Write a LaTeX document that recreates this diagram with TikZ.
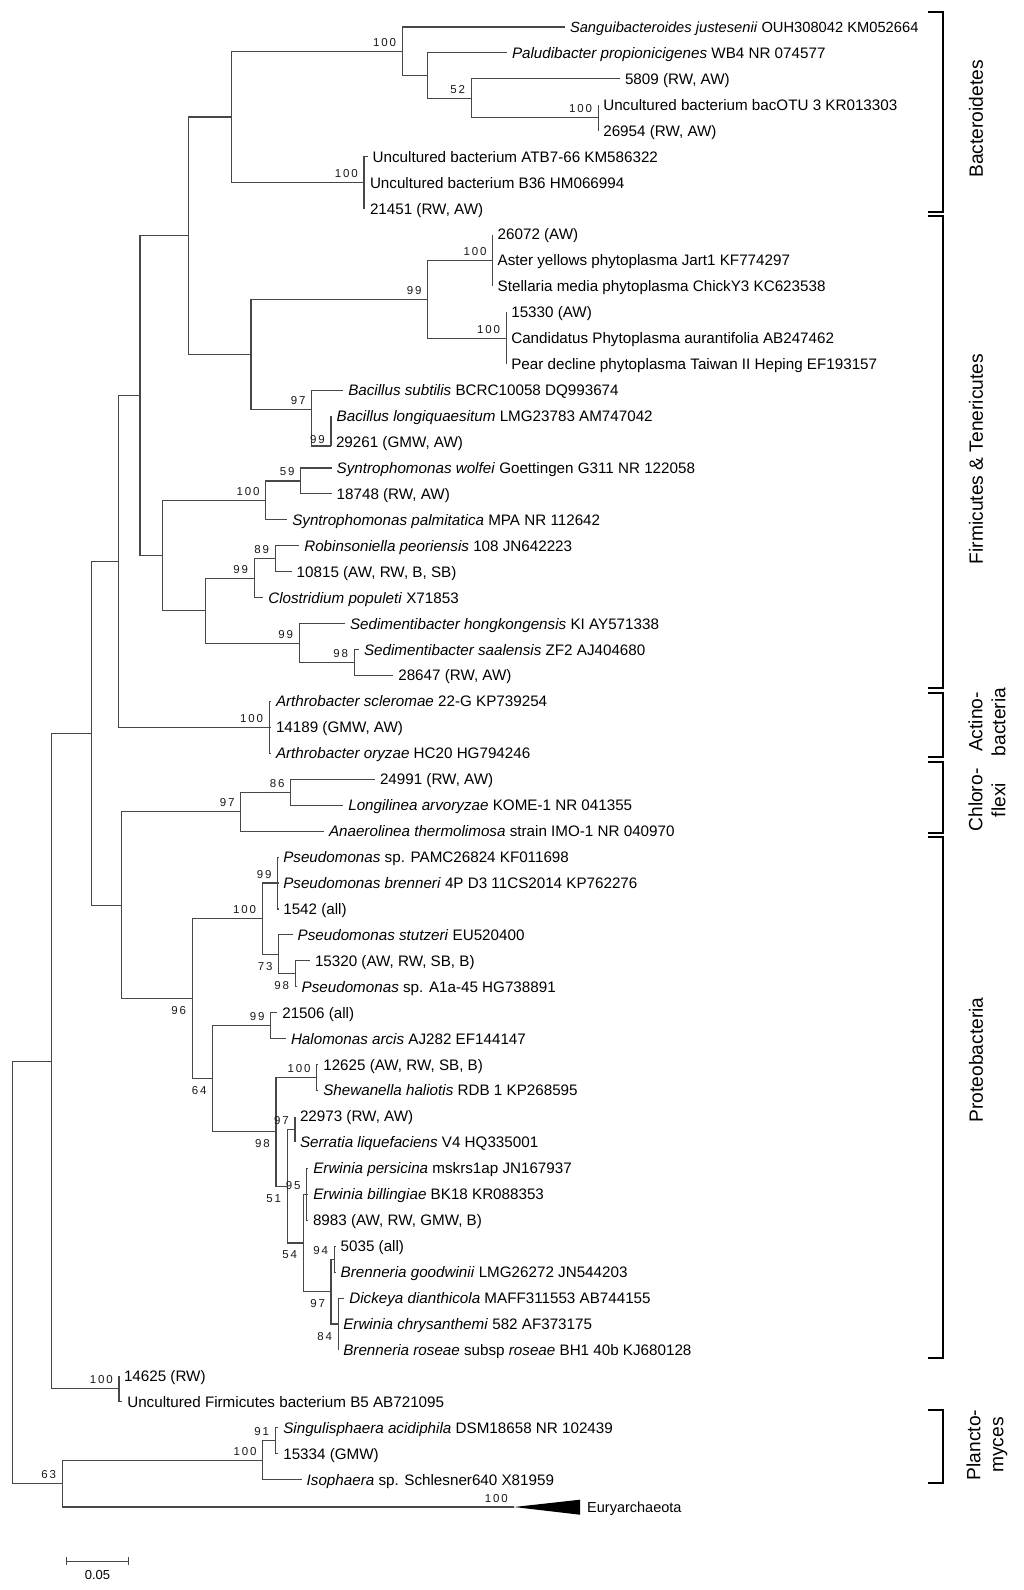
\documentclass[tikz,border=0pt]{standalone}
\usepackage{fontspec}
\setmainfont{Liberation Sans}
\newfontfamily\bsfam[LetterSpace=16]{Liberation Sans}
\begin{document}
\begin{tikzpicture}[x=1pt,y=-1pt,
  br/.style={draw=black!72, line width=1.1pt},
  leaf/.style={anchor=west, inner sep=0pt, outer sep=0pt, outer xsep=5pt, text height=10.8pt, text depth=0pt, font=\fontsize{15.2}{16}\selectfont},
  bs/.style={inner sep=0pt, font=\bsfam\fontsize{11.5}{12}\selectfont, text=black!90},
  grp/.style={rotate=90, align=center, font=\fontsize{19.2}{23}\selectfont, inner sep=0pt},
  bracket/.style={draw=black, line width=2pt}]
\fill[white] (0,0) rectangle (1024,1590);
\useasboundingbox (0,0) rectangle (1024,1590);
% internal nodes
\coordinate (R) at (12.7,1272.35);
\coordinate (N1) at (51.7,1061.1);
\coordinate (N63) at (62.3,1483.6);
\coordinate (N2) at (91.7,733.35);
\coordinate (N14625) at (119,1388.85);
\coordinate (N3) at (118.3,561.5);
\coordinate (N4) at (121.7,905.2);
\coordinate (N5) at (140,395.6);
\coordinate (NAct) at (269.3,727.4);
\coordinate (G) at (188.3,235.75);
\coordinate (N6) at (162.7,555.5);
\coordinate (F) at (231.7,117);
\coordinate (H) at (251,354.5);
\coordinate (A) at (402.3,51.3);
\coordinate (E) at (364,182.6);
\coordinate (B) at (427.7,75.6);
\coordinate (C) at (471.3,98.35);
\coordinate (D) at (598.3,117.8);
\coordinate (I) at (427.7,299.4);
\coordinate (J) at (492.7,260.5);
\coordinate (K) at (506.3,338.3);
\coordinate (L) at (311.7,409.6);
\coordinate (M) at (331,446);
\coordinate (NS) at (265.7,500.4);
\coordinate (N59) at (300.7,480.95);
\coordinate (NC) at (205.7,610.65);
\coordinate (N99a) at (254.3,578.2);
\coordinate (N89) at (275.3,558.75);
\coordinate (N99b) at (299.3,643.1);
\coordinate (N98) at (354.3,662.55);
\coordinate (N97c) at (240.7,811.7);
\coordinate (N86) at (290.7,792.25);
\coordinate (N96) at (192.3,998.75);
\coordinate (NP100) at (262.3,918.7);
\coordinate (NP99) at (277.7,883.0);
\coordinate (N73) at (278.7,954.35);
\coordinate (N98p) at (295.3,973.8);
\coordinate (N64) at (212.7,1078.8);
\coordinate (N99h) at (270.7,1025.7);
\coordinate (N98g) at (276,1131.9);
\coordinate (N100s) at (316.7,1077.55);
\coordinate (N51) at (287.3,1186.2);
\coordinate (N97s) at (295,1129.45);
\coordinate (N54) at (303.3,1242.95);
\coordinate (N95) at (306.7,1194.3);
\coordinate (NY) at (331,1291.6);
\coordinate (N94) at (334.3,1259.15);
\coordinate (NX) at (338.3,1324);
\coordinate (NPl) at (262.7,1460.2);
\coordinate (N91) at (275.3,1440.75);
\coordinate (eu) at (514,1507);
% leaves
\node[leaf, font=\fontsize{14.7}{16}\selectfont] (l0) at (565,27.0) {\textit{Sanguibacteroides justesenii} OUH308042 KM052664};
\node[leaf] (l1) at (507,52.9) {\textit{Paludibacter propionicigenes} WB4 NR 074577};
\node[leaf] (l2) at (620,78.9) {5809 (RW, AW)};
\node[leaf] (l3) at (598.3,104.8) {Uncultured bacterium bacOTU 3 KR013303};
\node[leaf] (l4) at (598.3,130.8) {26954 (RW, AW)};
\node[leaf] (l5) at (367.7,156.7) {Uncultured bacterium ATB7-66 KM586322};
\node[leaf] (l6) at (365,182.6) {Uncultured bacterium B36 HM066994};
\node[leaf] (l7) at (365,208.6) {21451 (RW, AW)};
\node[leaf] (l8) at (492.7,234.5) {26072 (AW)};
\node[leaf] (l9) at (492.7,260.5) {Aster yellows phytoplasma Jart1 KF774297};
\node[leaf] (l10) at (492.7,286.4) {Stellaria media phytoplasma ChickY3 KC623538};
\node[leaf] (l11) at (506.3,312.3) {15330 (AW)};
\node[leaf] (l12) at (506.3,338.3) {Candidatus Phytoplasma aurantifolia AB247462};
\node[leaf] (l13) at (506.3,364.2) {Pear decline phytoplasma Taiwan II Heping EF193157};
\node[leaf] (l14) at (343.3,390.2) {\textit{Bacillus subtilis} BCRC10058 DQ993674};
\node[leaf] (l15) at (331.7,416.1) {\textit{Bacillus longiquaesitum} LMG23783 AM747042};
\node[leaf] (l16) at (331,442.0) {29261 (GMW, AW)};
\node[leaf] (l17) at (331.7,468.0) {\textit{Syntrophomonas wolfei} Goettingen G311 NR 122058};
\node[leaf] (l18) at (331.7,493.9) {18748 (RW, AW)};
\node[leaf] (l19) at (287.3,519.9) {\textit{Syntrophomonas palmitatica} MPA NR 112642};
\node[leaf] (l20) at (299.3,545.8) {\textit{Robinsoniella peoriensis} 108 JN642223};
\node[leaf] (l21) at (291.7,571.7) {10815 (AW, RW, B, SB)};
\node[leaf] (l22) at (263.3,597.7) {\textit{Clostridium populeti} X71853};
\node[leaf] (l23) at (345,623.6) {\textit{Sedimentibacter hongkongensis} KI AY571338};
\node[leaf] (l24) at (359,649.6) {\textit{Sedimentibacter saalensis} ZF2 AJ404680};
\node[leaf] (l25) at (393.3,675.5) {28647 (RW, AW)};
\node[leaf] (l26) at (271,701.4) {\textit{Arthrobacter scleromae} 22-G KP739254};
\node[leaf] (l27) at (271,727.4) {14189 (GMW, AW)};
\node[leaf] (l28) at (271,753.3) {\textit{Arthrobacter oryzae} HC20 HG794246};
\node[leaf] (l29) at (375,779.3) {24991 (RW, AW)};
\node[leaf] (l30) at (343.3,805.2) {\textit{Longilinea arvoryzae} KOME-1 NR 041355};
\node[leaf] (l31) at (324,831.1) {\textit{Anaerolinea thermolimosa} strain IMO-1 NR 040970};
\node[leaf] (l32) at (278.3,857.1) {\textit{Pseudomonas} sp. PAMC26824 KF011698};
\node[leaf] (l33) at (278.3,883.0) {\textit{Pseudomonas brenneri} 4P D3 11CS2014 KP762276};
\node[leaf] (l34) at (278.3,909.0) {1542 (all)};
\node[leaf] (l35) at (292.7,934.9) {\textit{Pseudomonas stutzeri} EU520400};
\node[leaf] (l36) at (310,960.8) {15320 (AW, RW, SB, B)};
\node[leaf] (l37) at (296.7,986.8) {\textit{Pseudomonas} sp. A1a-45 HG738891};
\node[leaf] (l38) at (277.3,1012.7) {21506 (all)};
\node[leaf] (l39) at (286,1038.7) {\textit{Halomonas arcis} AJ282 EF144147};
\node[leaf] (l40) at (318.3,1064.6) {12625 (AW, RW, SB, B)};
\node[leaf] (l41) at (318.3,1090.5) {\textit{Shewanella haliotis} RDB 1 KP268595};
\node[leaf] (l42) at (295,1116.5) {22973 (RW, AW)};
\node[leaf] (l43) at (295,1142.4) {\textit{Serratia liquefaciens} V4 HQ335001};
\node[leaf] (l44) at (308.3,1168.4) {\textit{Erwinia persicina} mskrs1ap JN167937};
\node[leaf] (l45) at (308.3,1194.3) {\textit{Erwinia billingiae} BK18 KR088353};
\node[leaf] (l46) at (308,1220.2) {8983 (AW, RW, GMW, B)};
\node[leaf] (l47) at (335.7,1246.2) {5035 (all)};
\node[leaf] (l48) at (335.7,1272.1) {\textit{Brenneria goodwinii} LMG26272 JN544203};
\node[leaf] (l49) at (344.3,1298.1) {\textit{Dickeya dianthicola} MAFF311553 AB744155};
\node[leaf] (l50) at (338.3,1324.0) {\textit{Erwinia chrysanthemi} 582 AF373175};
\node[leaf] (l51) at (338.3,1349.9) {\textit{Brenneria roseae} subsp \textit{roseae} BH1 40b KJ680128};
\node[leaf] (l52) at (119,1375.9) {14625 (RW)};
\node[leaf] (l53) at (122.3,1401.8) {Uncultured Firmicutes bacterium B5 AB721095};
\node[leaf] (l54) at (278.3,1427.8) {\textit{Singulisphaera acidiphila} DSM18658 NR 102439};
\node[leaf] (l55) at (278.3,1453.7) {15334 (GMW)};
\node[leaf] (l56) at (301.7,1479.6) {\textit{Isophaera} sp. Schlesner640 X81959};
% branches
\foreach \p/\c in {R/N1, R/N63, N1/N2, N1/N14625, N2/N3, N2/N4, N3/N5, N3/NAct, N5/G, N5/N6,
  G/F, G/H, F/A, F/E, A/l0.west, A/B, B/l1.west, B/C, C/l2.west, C/D, D/l3.west, D/l4.west,
  E/l5.west, E/l6.west, E/l7.west, H/I, H/L, I/J, I/K, J/l8.west, J/l9.west, J/l10.west,
  K/l11.west, K/l12.west, K/l13.west, L/l14.west, L/M, M/l15.west, M/l16.west,
  N6/NS, N6/NC, NS/N59, NS/l19.west, N59/l17.west, N59/l18.west, NC/N99a, NC/N99b,
  N99a/N89, N99a/l22.west, N89/l20.west, N89/l21.west, N99b/l23.west, N99b/N98,
  N98/l24.west, N98/l25.west, NAct/l26.west, NAct/l27.west, NAct/l28.west,
  N4/N97c, N4/N96, N97c/N86, N97c/l31.west, N86/l29.west, N86/l30.west,
  N96/NP100, N96/N64, NP100/NP99, NP100/N73, NP99/l32.west, NP99/l33.west, NP99/l34.west,
  N73/l35.west, N73/N98p, N98p/l36.west, N98p/l37.west, N64/N99h, N64/N98g,
  N99h/l38.west, N99h/l39.west, N98g/N100s, N98g/N51, N100s/l40.west, N100s/l41.west,
  N51/N97s, N51/N54, N97s/l42.west, N97s/l43.west, N54/N95, N54/NY,
  N95/l44.west, N95/l45.west, N95/l46.west, NY/N94, NY/NX, N94/l47.west, N94/l48.west,
  NX/l49.west, NX/l50.west, NX/l51.west, N14625/l52.west, N14625/l53.west,
  N63/NPl, N63/eu, NPl/N91, NPl/l56.west, N91/l54.west, N91/l55.west}
  \draw[br] (\p) |- (\c);
% collapsed clade
\fill[black] (eu) -- ++(66,-7.3) -- ++(0,15) -- cycle;
\node[anchor=west, inner sep=0pt, text height=10.3pt, text depth=0pt, font=\fontsize{14.5}{16}\selectfont] (eury) at (587,1507) {Euryarchaeota};
% bootstrap values above branch
\foreach \n/\t in {A/100, C/52, D/100, E/100, J/100, I/99, K/100, L/97, N59/59, NS/100,
  N89/89, N99a/99, N99b/99, N98/98, NAct/100, N86/86, N97c/97, NP99/99, NP100/100,
  N99h/99, N100s/100, N97s/97, N95/95, N94/94, N14625/100, N91/91, NPl/100, N63/63, eu/100}
  \node[bs, anchor=base east] (bsa\n) at ([shift={(-6,-5)}]\n) {\t};
\node[bs, anchor=base east] (bsaM) at ([shift={(-6,-3)}]M) {99};
% bootstrap values below branch
\foreach \n/\t in {N73/73, N98p/98, N96/96, N64/64, N98g/98, N51/51, N54/54, NX/84}
  \node[bs, anchor=base east] (bsb\n) at ([shift={(-6,16)}]\n) {\t};
\node[bs, anchor=base east] (bsq97) at ([shift={(-13,-17)}]NX) {97};
% scale bar
\coordinate (sb1) at (66.7,1561);
\coordinate (sb2) at (128.3,1561);
\draw[br, line width=1pt] (sb1) -- (sb2);
\draw[br, line width=1pt] ([yshift=4pt]sb1) -- ([yshift=-4pt]sb1);
\draw[br, line width=1pt] ([yshift=4pt]sb2) -- ([yshift=-4pt]sb2);
\node[inner sep=0pt, font=\fontsize{13}{14}\selectfont] (sbl) at (97.5,1575) {0.05};
% group brackets
\foreach \t/\b in {11.7/212, 216/688.3, 693/757.3, 762/832.7, 837/1358, 1410/1483}
  \draw[bracket] (928,\t) -| (943.3,\b) -- (928,\b);
\node[grp] (gBac) at (976,119) {Bacteroidetes};
\node[grp] (gFir) at (976,459) {Firmicutes \& Tenericutes};
\node[grp] (gAct) at (987,722) {Actino-\\bacteria};
\node[grp] (gChl) at (987,800) {Chloro-\\flexi};
\node[grp] (gPro) at (976,1060) {Proteobacteria};
\node[grp] (gPla) at (987,1445) {Plancto-\\myces};
\end{tikzpicture}
\end{document}
